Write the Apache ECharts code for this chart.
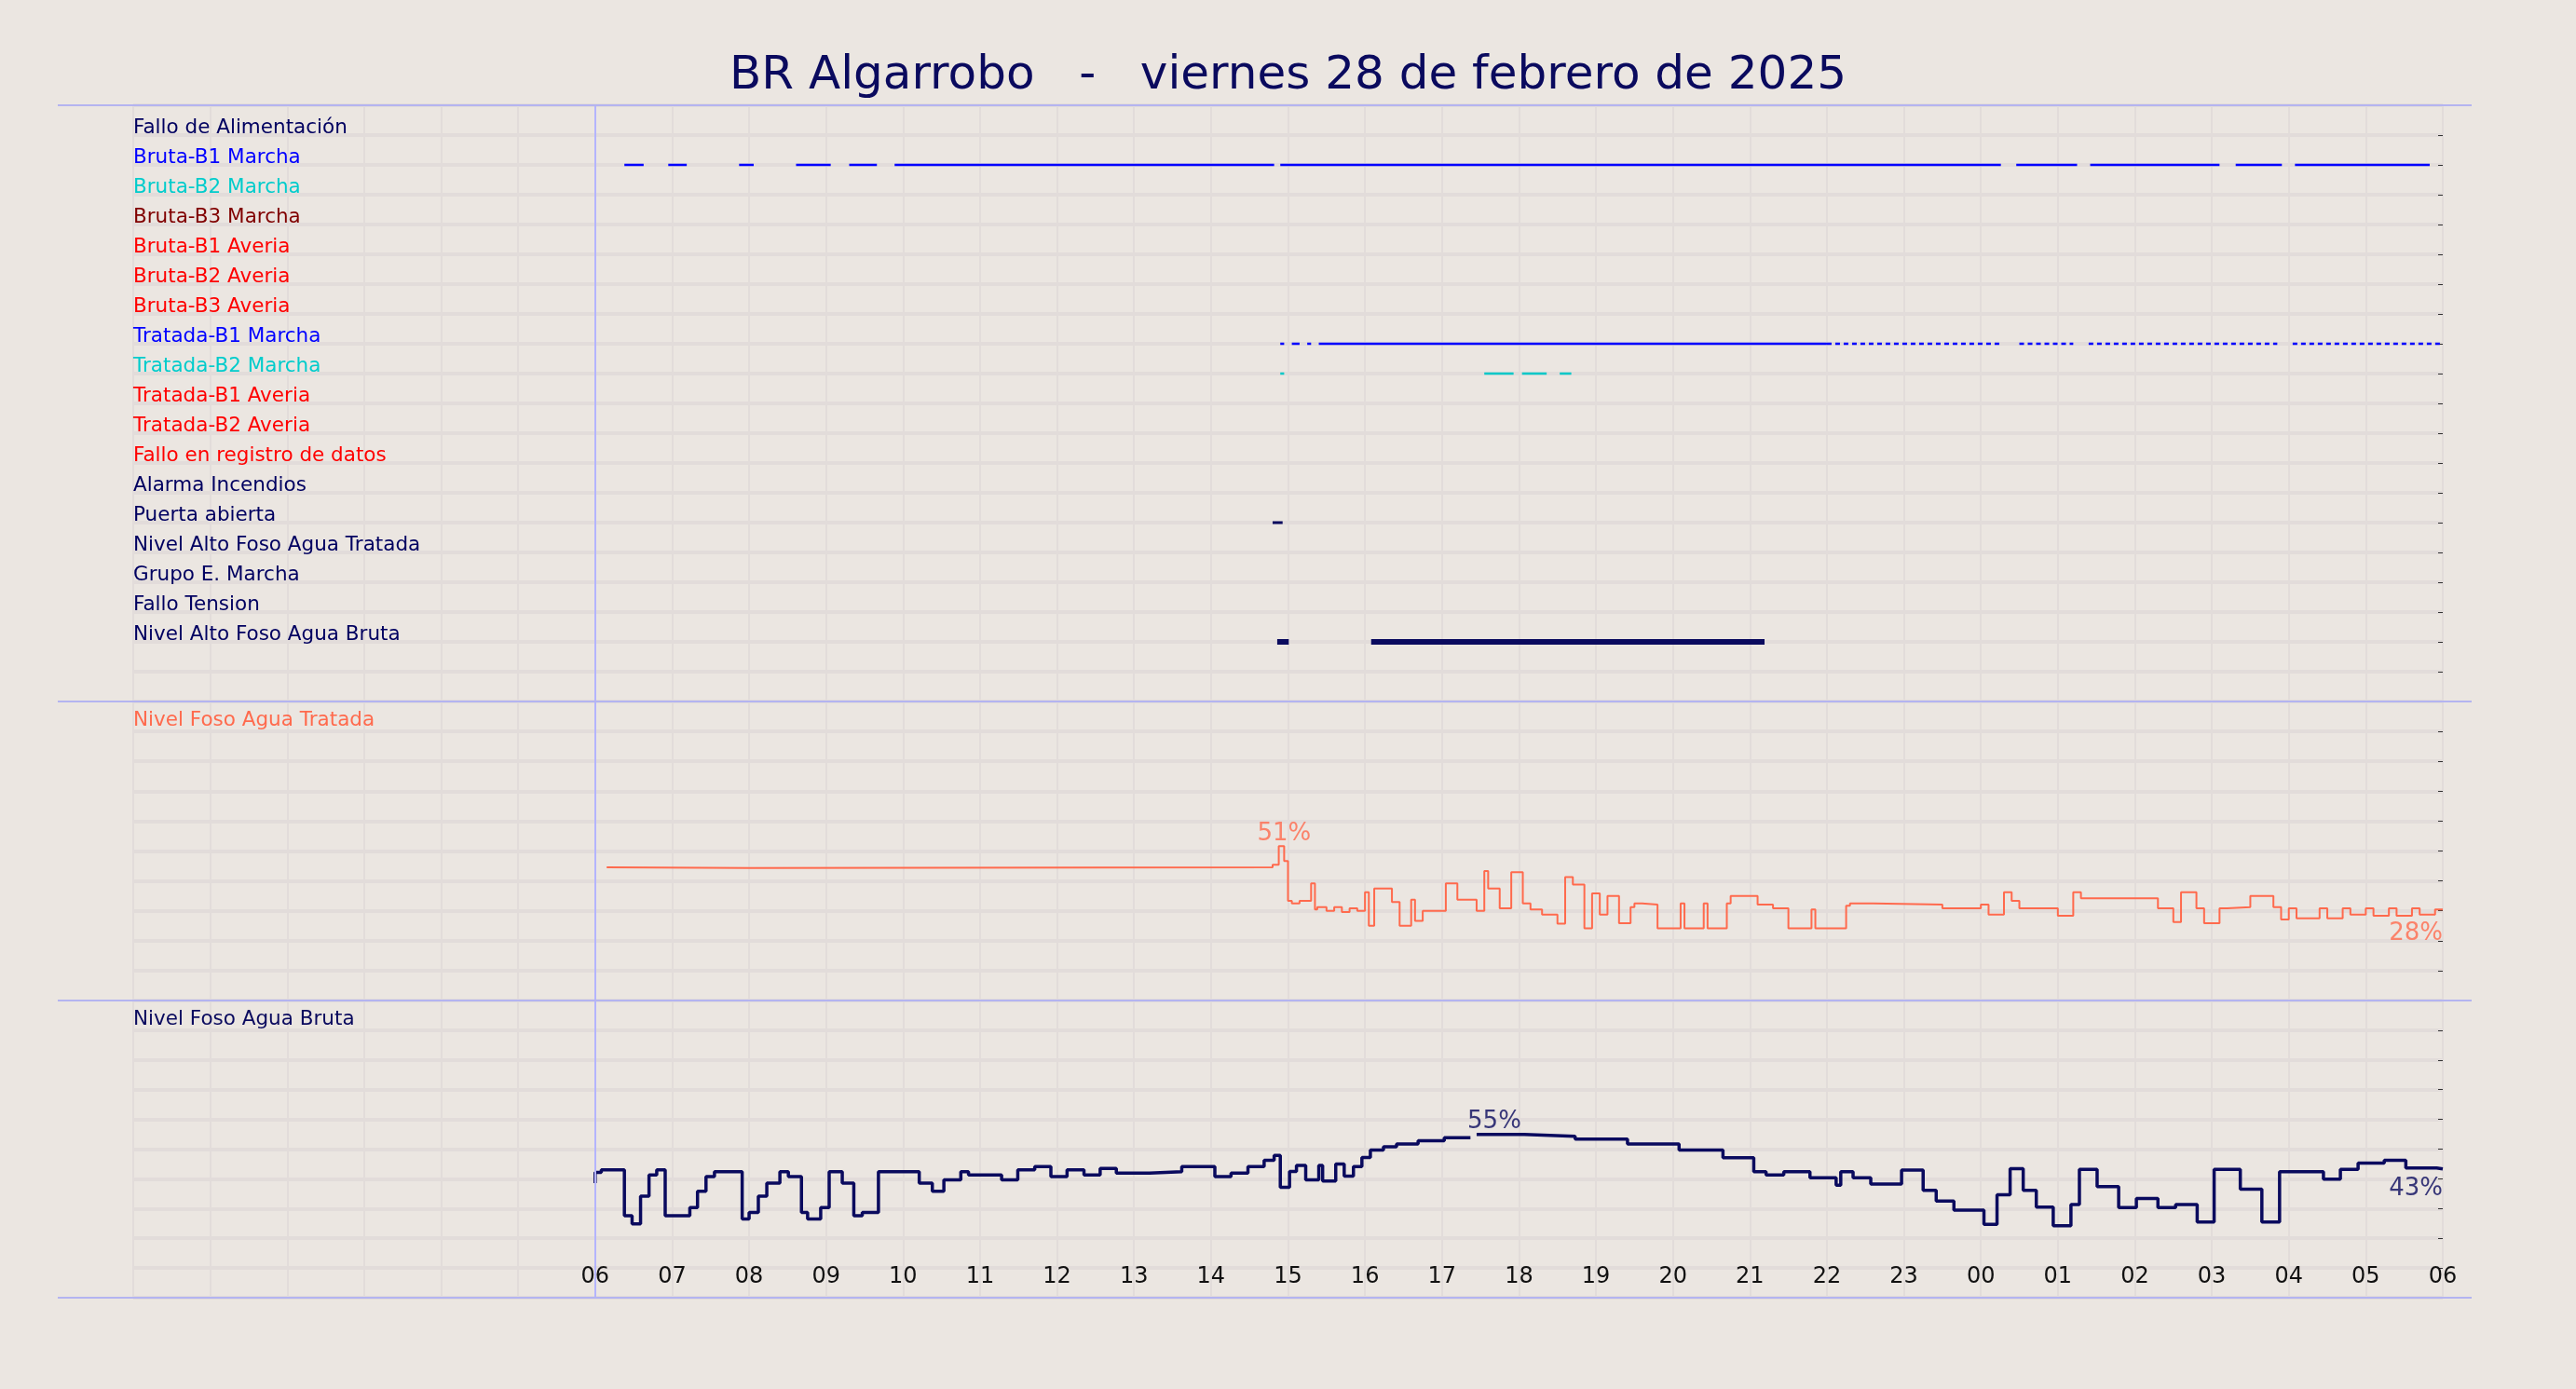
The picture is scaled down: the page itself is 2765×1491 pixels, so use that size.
<!DOCTYPE html>
<html><head><meta charset="utf-8">
<script src="https://cdn.jsdelivr.net/npm/echarts@6/dist/echarts.min.js"></script>
<style>html,body{margin:0;background:#ebe6e1}#c{width:2765px;height:1491px}</style>
</head><body><div id="c"></div>
<script>
const title = 'BR Algarrobo   -   viernes 28 de febrero de 2025';
const rowNames = ['Fallo de Alimentación','Bruta-B1 Marcha','Bruta-B2 Marcha','Bruta-B3 Marcha','Bruta-B1 Averia','Bruta-B2 Averia','Bruta-B3 Averia','Tratada-B1 Marcha','Tratada-B2 Marcha','Tratada-B1 Averia','Tratada-B2 Averia','Fallo en registro de datos','Alarma Incendios','Puerta abierta','Nivel Alto Foso Agua Tratada','Grupo E. Marcha','Fallo Tension','Nivel Alto Foso Agua Bruta'];
const rowColors = ['#000060','#0000ff','#00cccc','#800000','#ff0000','#ff0000','#ff0000','#0000ff','#00cccc','#ff0000','#ff0000','#ff0000','#000060','#000060','#000060','#000060','#000060','#000060'];
// hours since 00:00 of first day
const brutaB1Marcha = [[6.38,6.63],[6.95,7.19],[7.87,8.06],[8.61,9.06],[9.30,9.66],[9.89,14.82],[14.90,24.26],[24.46,25.25],[25.42,27.10],[27.31,27.91],[28.08,29.83]];
const tratadaB1Solid = [[14.9,14.95],[15.05,15.15],[15.25,15.3],[15.4,22.0]];
const tratadaB1Dotted = [[22.0,24.25],[24.5,25.2],[25.4,27.85],[28.05,30.0]];
const tratadaB2Marcha = [[14.9,14.95],[17.55,17.93],[18.04,18.36],[18.53,18.68]];
const puertaAbierta = [[14.8,14.93]];
const nivelAltoBruta = [[14.86,15.01],[16.08,21.19]];
const nivelTratada = [[6.15,41.5],[8.0,41.2],[14.8,41.5],[14.88,42.5],[14.95,50],[15.0,44],[15.05,28],[15.15,27],[15.3,28],[15.35,35],[15.38,24.5],[15.5,25.5],[15.6,24],[15.7,25.5],[15.8,23.5],[15.9,25],[16.0,24],[16.05,31.5],[16.12,18],[16.35,33],[16.45,27.5],[16.6,18],[16.65,28.5],[16.75,20],[17.05,24],[17.2,35],[17.45,28.5],[17.55,24],[17.6,40],[17.75,33],[17.9,25],[18.05,39.5],[18.15,27],[18.3,24.5],[18.5,22.5],[18.6,18.8],[18.7,37.5],[18.85,34.5],[18.95,17],[19.05,31],[19.15,22.5],[19.3,30],[19.45,19],[19.5,25.5],[19.6,27],[19.8,26.5],[20.1,17],[20.15,27],[20.4,17],[20.45,27],[20.7,17],[20.75,27],[21.1,30],[21.3,26.5],[21.5,25],[21.8,17],[21.85,24.5],[22.25,17],[22.3,26],[22.6,27],[23.5,26.5],[24.0,25],[24.1,26.5],[24.3,22.5],[24.4,31.5],[24.5,28],[25.0,25],[25.2,22],[25.3,31.5],[25.5,29],[26.3,29],[26.5,25],[26.6,19.5],[26.8,31.5],[26.9,25],[27.1,19],[27.2,25],[27.5,25.5],[27.8,30],[27.9,25.5],[28.0,20.5],[28.1,25],[28.4,21],[28.5,25],[28.7,21],[28.8,25],[29.0,22.5],[29.1,25],[29.3,22],[29.4,25],[29.6,22],[29.7,25],[29.9,22.5],[30.0,24.5]];
const nivelBruta = [[6.0,34.3],[6.08,38.6],[6.38,39.6],[6.48,21.1],[6.59,17.8],[6.70,29.0],[6.80,37.6],[6.91,39.6],[7.01,21.1],[7.23,21.1],[7.33,24.4],[7.44,31.0],[7.55,36.9],[7.65,38.9],[7.91,38.9],[8.0,19.8],[8.12,22.4],[8.23,29.0],[8.40,34.3],[8.51,38.9],[8.68,36.9],[8.76,22.4],[8.93,19.8],[9.04,24.4],[9.21,38.9],[9.36,34.3],[9.47,21.1],[9.68,22.4],[9.83,38.9],[10.21,38.9],[10.38,34.3],[10.53,31.0],[10.75,35.6],[10.85,38.9],[11.28,37.6],[11.49,35.6],[11.71,39.6],[11.92,40.9],[12.13,36.9],[12.35,39.6],[12.56,37.6],[12.77,40.2],[13.2,38.3],[13.62,38.9],[14.05,40.9],[14.26,36.9],[14.48,38.3],[14.69,40.9],[14.82,43.5],[14.9,45.5],[15.02,32.6],[15.11,39],[15.23,41.4],[15.4,35.6],[15.45,41.4],[15.62,35.1],[15.73,42],[15.85,37.1],[15.96,40.9],[16.07,44.6],[16.24,47.6],[16.41,48.9],[16.69,50.1],[17.03,51.4],[17.37,52.6],[17.45,'-'],[18.07,53.9],[18.73,53.2],[19.41,52.0],[20.08,50.1],[20.65,47.6],[21.05,44.5],[21.21,38.9],[21.44,37.6],[21.78,38.9],[22.12,36.4],[22.18,33.4],[22.34,38.9],[22.57,36.4],[22.97,33.9],[23.25,39.5],[23.42,31.4],[23.65,27.0],[23.81,23.4],[24.04,23.4],[24.21,17.6],[24.38,29.6],[24.55,40.1],[24.72,31.4],[24.94,24.6],[25.17,17.1],[25.28,25.6],[25.51,39.8],[25.79,32.9],[26.02,24.4],[26.3,28.1],[26.53,24.4],[26.81,25.6],[27.03,18.6],[27.37,39.8],[27.65,31.8],[27.88,18.6],[28.1,38.9],[28.45,38.9],[28.67,35.9],[28.9,39.8],[29.24,42.4],[29.52,43.5],[29.92,40.4],[30.0,40]];
const labelsTratada = [[14.95,55,'51%'],[30,15,'28%']];
const labelsBruta = [[17.68,59,'55%'],[30,32,'43%']];

const BG='#ebe6e1', GRID='#e2dcda', NAVY='#0a0a5e', ORANGE='#ff6a4d';
function segs(list,row){const d=[];list.forEach(([a,b])=>{d.push([a,row],[b,row],[b,'-']);});return d;}
const L=143,R=143;
const grids=[{left:L,right:R,top:113,height:640},{left:L,right:R,top:753,height:321},{left:L,right:R,top:1074,height:319}];
function xa(i){return {type:'value',gridIndex:i,min:0,max:30,interval:1,
  axisLine:{show:false},axisTick:{show:false},
  splitLine:{show:true,lineStyle:{color:GRID,width:2}},
  axisLabel:{show:i===2,inside:true,margin:10,fontSize:24,color:'#111',fontFamily:'DejaVu Sans',
    formatter:v=>v<6?'':String(v%24).padStart(2,'0')}};}
const rich={};rowColors.forEach((c,i)=>rich['r'+i]={color:c,fontSize:21.5,fontFamily:'DejaVu Sans'});
const yAxes=[
 {type:'value',gridIndex:0,min:-1,max:19,interval:1,inverse:true,axisLine:{show:false},axisTick:{show:false},
  splitLine:{lineStyle:{color:GRID,width:4}},
  axisLabel:{inside:true,margin:0,verticalAlign:'bottom',padding:[0,0,-3,0],formatter:v=>(v>=0&&v<rowNames.length)?'{r'+v+'|'+rowNames[v]+'}':'',rich}},
 {type:'value',gridIndex:1,min:-12,max:108,interval:12,axisLine:{show:false},axisTick:{show:false},axisLabel:{show:false},splitLine:{lineStyle:{color:GRID,width:4}}},
 {type:'value',gridIndex:2,min:-12,max:108,interval:12,axisLine:{show:false},axisTick:{show:false},axisLabel:{show:false},splitLine:{lineStyle:{color:GRID,width:4}}},
];
[0,1,2].forEach(i=>{const b=yAxes[i];yAxes.push({type:'value',gridIndex:i,min:b.min,max:b.max,interval:b.interval,inverse:!!b.inverse,position:'right',
  axisLine:{show:false},axisTick:{show:true,inside:true,length:5,lineStyle:{color:'#333'}},axisLabel:{show:false},splitLine:{show:false}});});
const vline={silent:true,symbol:'none',label:{show:false},lineStyle:{color:'#b4b4ff',width:2,type:'solid'},data:[{xAxis:6}]};
function segSeries(list,row,color,w,type){return {type:'line',xAxisIndex:0,yAxisIndex:0,data:segs(list,row),showSymbol:false,
  lineStyle:{color,width:w,type:type||'solid'},connectNulls:false,animation:false};}
const series=[
 Object.assign(segSeries(brutaB1Marcha,1,'#0000ff',2.5),{markLine:vline}),
 segSeries(tratadaB1Solid,7,'#0000ff',2.5),
 segSeries(tratadaB1Dotted,7,'#0000ff',2.5,[5,4]),
 segSeries(tratadaB2Marcha,8,'#00c8c8',2.5),
 segSeries(puertaAbierta,13,NAVY,3),
 segSeries(nivelAltoBruta,17,NAVY,6),
 {type:'line',xAxisIndex:1,yAxisIndex:1,data:nivelTratada,step:'start',showSymbol:false,lineStyle:{color:ORANGE,width:2},animation:false,markLine:vline},
 {type:'line',xAxisIndex:2,yAxisIndex:2,data:nivelBruta,step:'start',showSymbol:false,lineStyle:{color:NAVY,width:3.5},animation:false,markLine:vline},
 {type:'scatter',xAxisIndex:1,yAxisIndex:1,symbolSize:0,data:labelsTratada,animation:false,
  label:{show:true,formatter:p=>p.data[2],color:ORANGE,fontSize:26,fontFamily:'DejaVu Sans',align:'center',position:'inside'},
  labelLayout:p=>p.dataIndex===1?{align:'right'}:{}},
 {type:'scatter',xAxisIndex:2,yAxisIndex:2,symbolSize:0,data:labelsBruta,animation:false,
  label:{show:true,formatter:p=>p.data[2],color:NAVY,fontSize:26,fontFamily:'DejaVu Sans',align:'center',position:'inside'},
  labelLayout:p=>p.dataIndex===1?{align:'right'}:{}},
];
const hl=y=>({type:'line',shape:{x1:62,y1:y,x2:2653,y2:y},style:{stroke:'#b4b4f0',lineWidth:2},z:10});
const chart=echarts.init(document.getElementById('c'),null,{renderer:'canvas'});
chart.setOption({
 backgroundColor:BG,animation:false,
 title:{text:title,left:'center',top:52,textStyle:{color:NAVY,fontSize:50,fontWeight:'normal',fontFamily:'DejaVu Sans'}},
 grid:grids,xAxis:[xa(0),xa(1),xa(2)],yAxis:yAxes,series,
 graphic:[hl(113),hl(753),hl(1074),hl(1393),
  {type:'text',left:143,top:762,z:100,style:{text:'Nivel Foso Agua Tratada',fill:ORANGE,fontSize:21.5,fontFamily:'DejaVu Sans'}},
  {type:'text',left:143,top:1083,z:100,style:{text:'Nivel Foso Agua Bruta',fill:NAVY,fontSize:21.5,fontFamily:'DejaVu Sans'}}]
});
</script></body></html>
